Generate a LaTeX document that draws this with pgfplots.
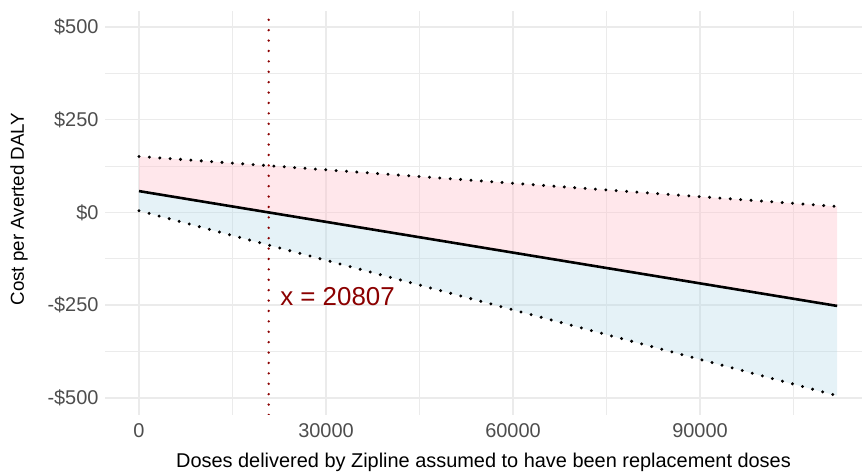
\documentclass[border=0pt]{standalone}
\usepackage{pgfplots}
\pgfplotsset{compat=1.18}
\usepackage{fontspec}
\setmainfont{Liberation Sans}
\definecolor{gridgray}{HTML}{EBEBEB}
\definecolor{tickgray}{HTML}{4D4D4D}
\definecolor{darkred}{HTML}{8B0000}
\definecolor{basepink}{HTML}{FFC0CB}
\definecolor{baseblue}{HTML}{ADD8E6}

\begin{document}
\begin{tikzpicture}[x=1bp,y=1bp]
\useasboundingbox (0,0) rectangle (862,475);
\begin{axis}[
    at={(105bp,60bp)}, anchor=south west,
    scale only axis, width=757bp, height=404bp,
    xmin=-5455, xmax=115990, ymin=-546, ymax=543,
    axis line style={draw=none},
    major tick style={draw=none},
    minor tick style={draw=none},
    scaled x ticks=false,
    xtick={0,30000,60000,90000},
    xticklabels={0,30000,60000,90000},
    minor xtick={15000,45000,75000,105000},
    ytick={-500,-250,0,250,500},
    yticklabels={-\$500,-\$250,\$0,\$250,\$500},
    minor ytick={-375,-125,125,375},
    grid=both,
    major grid style={draw=gridgray, line width=1.6bp},
    minor grid style={draw=gridgray, line width=0.9bp},
    tick label style={font=\fontsize{20}{23}\selectfont, text=tickgray},
    xticklabel style={yshift=-5bp},
    yticklabel style={xshift=-3bp},
    every axis y label/.style={at={(rel axis cs:0,0.5)}, xshift=-86bp, yshift=4bp, rotate=90, anchor=center, font=\fontsize{18.8}{22}\selectfont},
    every axis x label/.style={at={(rel axis cs:0.5,0)}, yshift=-47bp, anchor=center, font=\fontsize{20}{23}\selectfont},
    xlabel={Doses delivered by Zipline assumed to have been replacement doses},
    ylabel={Cost per Averted DALY},
]
% ribbons
\addplot[draw=none, fill=basepink, fill opacity=0.38] coordinates {(0,151) (112000,16) (112000,-252) (0,57.5)} -- cycle;
\addplot[draw=none, fill=baseblue, fill opacity=0.32] coordinates {(0,57.5) (112000,-252) (112000,-494) (0,4.6)} -- cycle;
% bounds
\addplot[black, line width=3.3bp, line cap=round, dash pattern=on 0bp off 10.4bp] coordinates {(0,151) (112000,16)};
\addplot[black, line width=3.3bp, line cap=round, dash pattern=on 0bp off 10.4bp] coordinates {(0,4.6) (112000,-494)};
% central estimate
\addplot[black, line width=2.6bp] coordinates {(0,57.5) (112000,-252)};
% break-even
\addplot[darkred, line width=2.6bp, line cap=round, dash pattern=on 0bp off 10.4bp] coordinates {(20807,-546) (20807,543)};
\node[darkred, anchor=center, font=\fontsize{26}{30}\selectfont] at (axis cs:31850,-228) {x = 20807};
\end{axis}
\end{tikzpicture}
\end{document}
